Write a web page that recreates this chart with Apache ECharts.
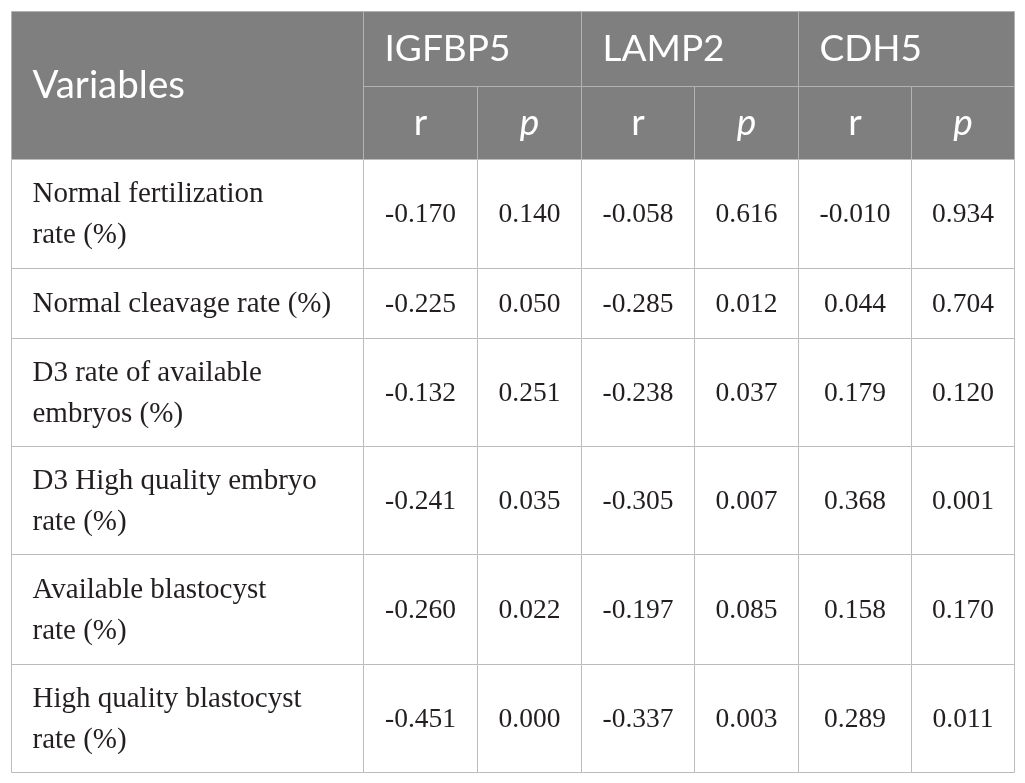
<!DOCTYPE html>
<html><head><meta charset="utf-8">
<script src="https://cdn.jsdelivr.net/npm/echarts@6/dist/echarts.min.js"></script>
<style>html,body{margin:0;padding:0;background:#fff}#c{width:1025px;height:783px}</style>
</head><body><div id="c"></div>
<script>
// ---- data ----
const headerLabel = 'Variables';
const genes = ['IGFBP5', 'LAMP2', 'CDH5'];
const statLabels = ['r', 'p'];
const variables = [
  'Normal fertilization\nrate (%)',
  'Normal cleavage rate (%)',
  'D3 rate of available\nembryos (%)',
  'D3 High quality embryo\nrate (%)',
  'Available blastocyst\nrate (%)',
  'High quality blastocyst\nrate (%)'
];
const igfbp5R = [-0.170, -0.225, -0.132, -0.241, -0.260, -0.451];
const igfbp5P = [0.140, 0.050, 0.251, 0.035, 0.022, 0.000];
const lamp2R  = [-0.058, -0.285, -0.238, -0.305, -0.197, -0.337];
const lamp2P  = [0.616, 0.012, 0.037, 0.007, 0.085, 0.003];
const cdh5R   = [-0.010, 0.044, 0.179, 0.368, 0.158, 0.289];
const cdh5P   = [0.934, 0.704, 0.120, 0.001, 0.170, 0.011];

// ---- layout (axis units) ----
const COL = [0, 352, 466, 569.5, 683, 786.5, 900, 1003];
const ROW = [0, 75, 148, 256.5, 326.7, 435, 543.3, 653, 761.3];

const valueCols = [igfbp5R, igfbp5P, lamp2R, lamp2P, cdh5R, cdh5P];
const cells = [];
cells.push({c: [0, 1], r: [0, 2], text: headerLabel, kind: 'head', align: 'left', size: 38.5});
genes.forEach((g, i) => {
  cells.push({c: [1 + 2 * i, 3 + 2 * i], r: [0, 1], text: g, kind: 'head', align: 'left'});
  statLabels.forEach((s, j) => {
    cells.push({c: [1 + 2 * i + j, 2 + 2 * i + j], r: [1, 2], text: s, kind: 'head', align: 'center', italic: s === 'p'});
  });
});
variables.forEach((v, k) => {
  cells.push({c: [0, 1], r: [2 + k, 3 + k], text: v, kind: 'label', align: 'left'});
  valueCols.forEach((arr, j) => {
    cells.push({c: [1 + j, 2 + j], r: [2 + k, 3 + k], text: arr[k].toFixed(3), kind: 'num', align: 'center'});
  });
});

const seriesData = cells.map(cl => [COL[cl.c[0]], ROW[cl.r[0]], COL[cl.c[1]], ROW[cl.r[1]]]);

const HEAD_FONT = 'Lato, "Open Sans", sans-serif';
const BODY_FONT = '"Liberation Serif", "DejaVu Serif", serif';

function renderItem(params, api) {
  const cl = cells[params.dataIndex];
  const p0 = api.coord([api.value(0), api.value(1)]);
  const p1 = api.coord([api.value(2), api.value(3)]);
  const x0 = Math.round(p0[0]) + 0.5, y0 = Math.round(p0[1]) + 0.5;
  const x1 = Math.round(p1[0]) + 0.5, y1 = Math.round(p1[1]) + 0.5;
  const head = cl.kind === 'head';
  const tx = cl.align === 'left' ? x0 + 21 : (x0 + x1) / 2;
  const ty = (y0 + y1) / 2 + (head ? 0 : 1);
  const size = cl.size || (head ? 37 : (cl.kind === 'label' ? 29 : 27.5));
  return {
    type: 'group',
    children: [
      {type: 'rect', shape: {x: x0, y: y0, width: x1 - x0, height: y1 - y0},
       style: {fill: head ? '#7f7f7f' : '#ffffff', stroke: head ? '#b2b2b2' : '#bcbcbc', lineWidth: 1}},
      {type: 'text', z2: 10, style: {
        text: cl.text, x: tx, y: ty,
        align: cl.align, verticalAlign: 'middle',
        fill: head ? '#ffffff' : '#231f20',
        fontFamily: head ? HEAD_FONT : BODY_FONT,
        fontSize: size,
        fontStyle: cl.italic ? 'italic' : 'normal',
        lineHeight: 41
      }}
    ]
  };
}

const chart = echarts.init(document.getElementById('c'), null, {renderer: 'canvas'});
chart.setOption({
  animation: false,
  backgroundColor: '#ffffff',
  grid: {left: 11, top: 11, width: 1003, height: 761.3},
  xAxis: {type: 'value', min: 0, max: 1003, show: false},
  yAxis: {type: 'value', min: 0, max: 761.3, inverse: true, show: false},
  series: [{
    type: 'custom',
    renderItem: renderItem,
    data: seriesData,
    encode: {x: [0, 2], y: [1, 3]},
    clip: false,
    silent: true
  }]
});
</script>
</body></html>
